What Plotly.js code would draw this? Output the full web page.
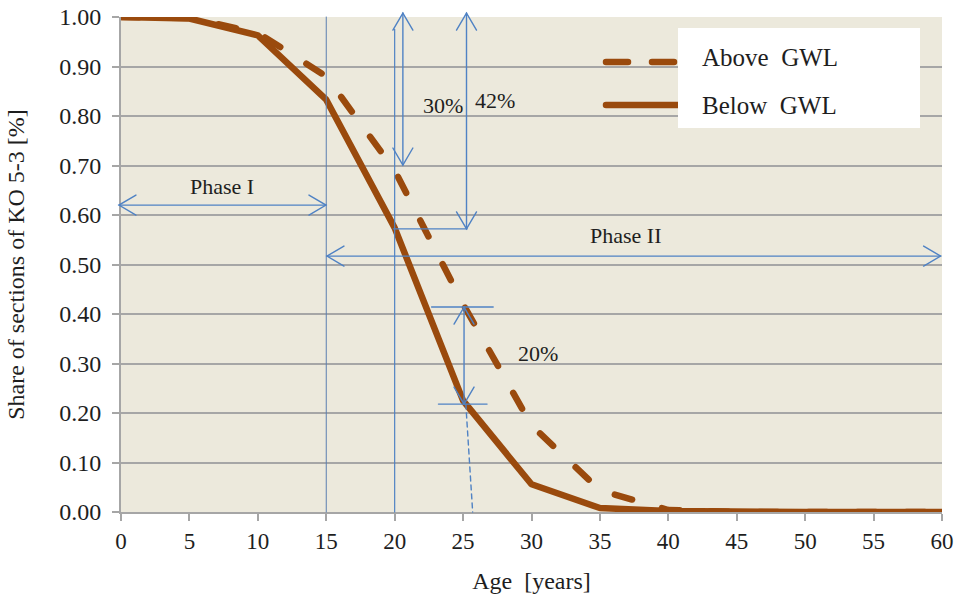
<!DOCTYPE html>
<html>
<head>
<meta charset="utf-8">
<script src="https://cdn.plot.ly/plotly-3.0.1.min.js"></script>
<style>
  html, body { margin: 0; padding: 0; background: #ffffff; }
  #chart { width: 961px; height: 596px; }
  .js-line { stroke-linecap: round !important; stroke-linejoin: round !important; }
  .shapelayer path { stroke-linecap: round; }
</style>
</head>
<body>
<div id="chart"></div>
<script>
// ---- data ----
var ageYears = [0, 5, 10, 15, 20, 25, 30, 35, 40, 45, 50, 55, 60];
var aboveGWL = [1.000, 0.998, 0.968, 0.880, 0.690, 0.420, 0.175, 0.044, 0.004, 0.000, 0.000, 0.000, 0.000];
var belowGWL = [1.000, 0.997, 0.963, 0.833, 0.574, 0.225, 0.056, 0.008, 0.002, 0.000, 0.000, 0.000, 0.000];
var seriesNames = ['Above\u00A0\u00A0GWL', 'Below\u00A0\u00A0GWL'];
var xTickVals = [0, 5, 10, 15, 20, 25, 30, 35, 40, 45, 50, 55, 60];
var yTickVals = [0, 0.1, 0.2, 0.3, 0.4, 0.5, 0.6, 0.7, 0.8, 0.9, 1.0];

// annotation values
var phaseBoundary = 15;       // years
var phaseILevel = 0.62;
var phaseIILevel = 0.517;
var labels = {
  phaseI:  {text: 'Phase I',  x: 7.4,  y: 0.658},
  phaseII: {text: 'Phase II', x: 36.9, y: 0.558},
  p30:     {text: '30%',      x: 23.5, y: 0.822},
  p42:     {text: '42%',      x: 27.3, y: 0.832},
  p20:     {text: '20%',      x: 30.5, y: 0.320}
};

var brown = '#9A4A0D';
var blue = '#4F82C4';
var grid = '#A6A6A6';
var ink = '#1E1E1E';

// plot geometry
var W = 961, H = 596;
var M = {l: 121, r: 19, t: 17, b: 84};
var pw = W - M.l - M.r, ph = H - M.t - M.b;
var xMax = 60;
function PX(a) { return a / xMax; }           // age -> paper x
function PY(v) { return v; }                  // share -> paper y
function dx(px) { return px / pw; }          // pixel offsets -> paper
function dy(px) { return px / ph; }

var shapes = [];
function seg(x0, y0, x1, y1, opts) {
  opts = opts || {};
  shapes.push({type: 'line', xref: 'paper', yref: 'paper', x0: x0, y0: y0, x1: x1, y1: y1,
    line: {color: opts.color || blue, width: opts.width || 1.4, dash: opts.dash || 'solid'}, layer: 'above'});
}
function head(xt, yt, dir) {
  var back = 17, half = 10, p;
  if (dir === 'l') p = [[xt + dx(back), yt + dy(half)], [xt + dx(back), yt - dy(half)]];
  if (dir === 'r') p = [[xt - dx(back), yt + dy(half)], [xt - dx(back), yt - dy(half)]];
  if (dir === 'u') p = [[xt - dx(half), yt - dy(back)], [xt + dx(half), yt - dy(back)]];
  if (dir === 'd') p = [[xt - dx(half), yt + dy(back)], [xt + dx(half), yt + dy(back)]];
  shapes.push({type: 'path', xref: 'paper', yref: 'paper', layer: 'above',
    path: 'M' + p[0][0] + ',' + p[0][1] + ' L' + xt + ',' + yt + ' L' + p[1][0] + ',' + p[1][1],
    line: {color: blue, width: 1.4}});
}
function arrowH(a0, a1, v) { seg(PX(a0), PY(v), PX(a1), PY(v)); head(PX(a0), PY(v), 'l'); head(PX(a1), PY(v), 'r'); }
function arrowV(a, v0, v1) { seg(PX(a), PY(v0), PX(a), PY(v1)); head(PX(a), PY(v1), 'u'); head(PX(a), PY(v0), 'd'); }

// vertical reference lines
seg(PX(phaseBoundary), 0, PX(phaseBoundary), 1, {width: 1, color: '#5B7FB0'});
seg(PX(20), 0, PX(20), 0.975, {width: 1.2});
// Phase arrows
arrowH(-0.15, 14.98, phaseILevel);
arrowH(15.05, 59.9, phaseIILevel);
// 30% and 42% arrows
arrowV(20.6, aboveGWL[4] + 0.011, 1.008);
arrowV(25.25, belowGWL[4] - 0.002, 1.008);
seg(PX(19.9), PY(belowGWL[4] - 0.002), PX(25.3), PY(belowGWL[4] - 0.002));
// 20% arrow
arrowV(25.07, belowGWL[5] - 0.007, aboveGWL[5] - 0.006);
seg(PX(22.7), PY(aboveGWL[5] - 0.006), PX(27.2), PY(aboveGWL[5] - 0.006));
seg(PX(23.2), PY(belowGWL[5] - 0.007), PX(26.75), PY(belowGWL[5] - 0.007));
seg(PX(25.2), PY(belowGWL[5] - 0.007), PX(25.7), 0, {dash: '5px,4px'});

// legend box
shapes.push({type: 'rect', xref: 'paper', yref: 'paper', layer: 'above',
  x0: dx(678 - M.l), x1: dx(920 - M.l), y0: 1 - dy(128 - M.t), y1: 1 - dy(28 - M.t),
  fillcolor: '#FFFFFF', line: {width: 0}});
// legend samples
shapes.push({type: 'line', xref: 'paper', yref: 'paper', layer: 'below',
  x0: dx(606 - M.l), x1: dx(676 - M.l), y0: 1 - dy(62 - M.t), y1: 1 - dy(62 - M.t),
  line: {color: brown, width: 6.5, dash: '22px,24px'}});
shapes.push({type: 'line', xref: 'paper', yref: 'paper', layer: 'below',
  x0: dx(606 - M.l), x1: dx(678 - M.l), y0: 1 - dy(105 - M.t), y1: 1 - dy(105 - M.t),
  line: {color: brown, width: 6.5}});

var serif = 'Liberation Serif';
var annotations = [];
Object.keys(labels).forEach(function (k) {
  var L = labels[k];
  annotations.push({xref: 'paper', yref: 'paper', x: PX(L.x), y: PY(L.y), text: L.text, showarrow: false,
    font: {family: serif, size: 22, color: ink}, xanchor: 'center', yanchor: 'middle'});
});
annotations.push({xref: 'paper', yref: 'paper', x: dx(700 - M.l), y: 1 - dy(58 - M.t), text: seriesNames[0],
  showarrow: false, xanchor: 'left', yanchor: 'middle', font: {family: serif, size: 25, color: ink}});
annotations.push({xref: 'paper', yref: 'paper', x: dx(700 - M.l), y: 1 - dy(105 - M.t), text: seriesNames[1],
  showarrow: false, xanchor: 'left', yanchor: 'middle', font: {family: serif, size: 25, color: ink}});

var traces = [
  {x: ageYears, y: belowGWL, name: seriesNames[1], mode: 'lines', cliponaxis: false,
   line: {color: brown, width: 6.5}},
  {x: ageYears, y: aboveGWL, name: seriesNames[0], mode: 'lines', cliponaxis: false,
   line: {color: brown, width: 6.5, dash: '18px,31px'}}
];

var layout = {
  width: W, height: H,
  margin: M,
  paper_bgcolor: '#FFFFFF',
  plot_bgcolor: '#ECE9DC',
  showlegend: false,
  font: {family: serif, size: 23, color: ink},
  xaxis: {
    range: [0, 60], tickvals: xTickVals, ticktext: xTickVals.map(String),
    showgrid: false, zeroline: false,
    showline: true, linecolor: grid, linewidth: 2,
    ticks: 'outside', ticklen: 7, tickcolor: grid, tickwidth: 2,
    tickfont: {family: serif, size: 23, color: ink},
    title: {text: 'Age\u00A0\u00A0[years]', font: {family: serif, size: 24, color: ink}, standoff: 20},
    fixedrange: true
  },
  yaxis: {
    range: [0, 1], tickvals: yTickVals, tickformat: '.2f',
    showgrid: true, gridcolor: grid, gridwidth: 2, zeroline: false,
    showline: true, linecolor: grid, linewidth: 2,
    ticks: 'outside', ticklen: 7, tickcolor: grid, tickwidth: 2,
    ticklabelstandoff: 6,
    tickfont: {family: serif, size: 24, color: ink},
    title: {text: 'Share of sections of KO 5-3 [%]', font: {family: serif, size: 24, color: ink}, standoff: 28},
    fixedrange: true
  },
  shapes: shapes,
  annotations: annotations
};

Plotly.newPlot('chart', traces, layout, {displayModeBar: false, staticPlot: true});
</script>
</body>
</html>
